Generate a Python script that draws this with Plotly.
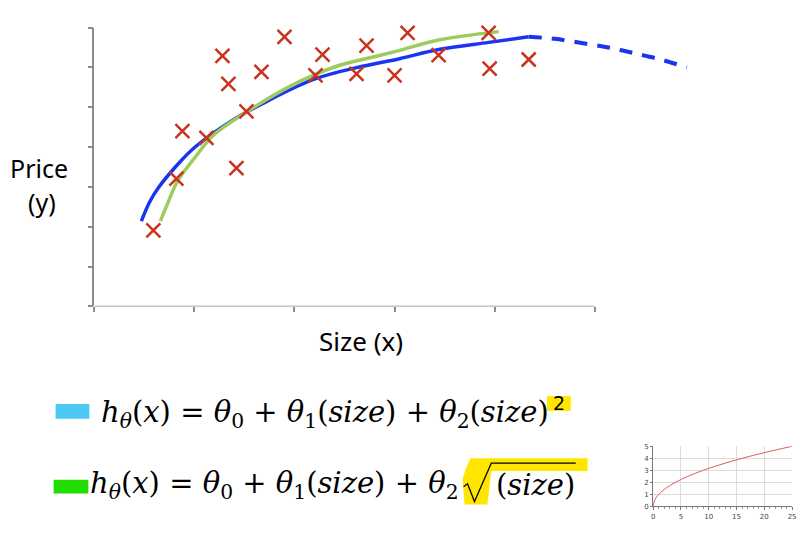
import plotly.graph_objects as go

W, H = 812, 537

# ---- data ----
cross_x = [0.59, 0.82, 0.88, 1.12, 1.28, 1.34, 1.42, 1.52, 1.67, 1.90,
           2.21, 2.28, 2.62, 2.72, 3.00, 3.13, 3.44, 3.94, 3.95, 4.34]
cross_y = [1.91, 3.21, 4.40, 4.23, 6.29, 5.59, 3.47, 4.90, 5.89, 6.77,
           5.80, 6.32, 5.84, 6.55, 5.80, 6.87, 6.31, 6.87, 5.97, 6.20]

blue_x = [0.47, 0.55, 0.64, 0.86, 1.01, 1.39, 1.67, 2.19, 2.68, 3.05, 3.44, 3.94, 4.34]
blue_y = [2.14, 2.61, 2.98, 3.64, 4.01, 4.69, 5.08, 5.70, 6.03, 6.22, 6.45, 6.63, 6.77]

blue_dash_x = [4.34, 4.60, 4.90, 5.16, 5.39, 5.66, 5.92]
blue_dash_y = [6.77, 6.72, 6.60, 6.49, 6.36, 6.20, 6.00]

green_x = [0.66, 0.73, 0.83, 1.00, 1.19, 1.52, 1.95, 2.42, 2.85, 3.05, 3.44, 4.04]
green_y = [2.14, 2.57, 3.14, 3.72, 4.30, 4.88, 5.52, 6.03, 6.30, 6.43, 6.69, 6.90]

main_xticks = [0, 1, 2, 3, 4, 5]
main_yticks = [0, 1, 2, 3, 4, 5, 6, 7]

inset_x = [0, 0.25, 1, 2.25, 4, 6.25, 9, 12.25, 16, 20.25, 25]
inset_y = [0, 0.5, 1, 1.5, 2, 2.5, 3, 3.5, 4, 4.5, 5]
inset_xticks = [0, 5, 10, 15, 20, 25]
inset_yticks = [0, 1, 2, 3, 4, 5]


def px(x):
    return x / W


def py(y):
    return 1 - y / H


fig = go.Figure()

fig.add_trace(go.Scatter(x=blue_x, y=blue_y, mode="lines",
                         line=dict(color="#1a35f2", width=3.5, shape="spline"),
                         showlegend=False, hoverinfo="skip"))
fig.add_trace(go.Scatter(x=blue_dash_x, y=blue_dash_y, mode="lines",
                         line=dict(color="#1a35f2", width=4, shape="spline", dash="13px,10px"),
                         showlegend=False, hoverinfo="skip"))
fig.add_trace(go.Scatter(x=green_x, y=green_y, mode="lines",
                         line=dict(color="#9dcc5e", width=3.5, shape="spline"),
                         showlegend=False, hoverinfo="skip"))
fig.add_trace(go.Scatter(x=cross_x, y=cross_y, mode="markers",
                         marker=dict(symbol="x-thin", size=14,
                                     line=dict(color="#c8341f", width=2.5)),
                         cliponaxis=False, showlegend=False))

fig.add_trace(go.Scatter(x=inset_x, y=inset_y, mode="lines", xaxis="x2", yaxis="y2",
                         line=dict(color="#e05a5a", width=1, shape="spline"),
                         showlegend=False))

shapes = []
# main x axis line (only up to the last tick)
shapes.append(dict(type="line", xref="x", yref="y", x0=main_xticks[0], x1=main_xticks[-1],
                   y0=0, y1=0, line=dict(color="#8c8c8c", width=1.5), layer="above"))

# colored legend swatches
shapes.append(dict(type="rect", xref="paper", yref="paper",
                   x0=px(54), x1=px(88), y0=py(421), y1=py(406),
                   fillcolor="#4cc8f4", line=dict(width=0), layer="below"))
shapes.append(dict(type="rect", xref="paper", yref="paper",
                   x0=px(52), x1=px(87), y0=py(497), y1=py(483),
                   fillcolor="#22dd00", line=dict(width=0), layer="below"))

# yellow highlights
shapes.append(dict(type="rect", xref="paper", yref="paper",
                   x0=px(549), x1=px(573), y0=py(413), y1=py(398),
                   fillcolor="#ffe600", line=dict(width=0), layer="below"))


def path(points, close=True):
    s = "M " + " L ".join(f"{px(a):.5f},{py(b):.5f}" for a, b in points)
    return s + (" Z" if close else "")


shapes.append(dict(type="path", xref="paper", yref="paper",
                   path=path([(472, 461), (590, 461), (590, 474), (493, 474),
                              (489, 508), (466, 508), (464, 482), (468, 470)]),
                   fillcolor="#ffe600", line=dict(width=0), layer="below"))

# radical sign
rad = [(465, 490), (469, 487), (476, 505), (493, 466), (578, 466)]
shapes.append(dict(type="path", xref="paper", yref="paper", path=path(rad, close=False),
                   line=dict(color="black", width=1.3), layer="above"))

annotations = []
sans = "Noto Sans"
annotations.append(dict(text="Price", x=px(37), y=py(166), xref="paper", yref="paper",
                        showarrow=False, font=dict(family=sans, size=25, color="black"),
                        xanchor="center", yanchor="middle"))
annotations.append(dict(text="(y)", x=px(40), y=py(201), xref="paper", yref="paper",
                        showarrow=False, font=dict(family=sans, size=25, color="black"),
                        xanchor="center", yanchor="middle"))
annotations.append(dict(text="Size (x)", x=px(362), y=py(342), xref="paper", yref="paper",
                        showarrow=False, font=dict(family=sans, size=26, color="black"),
                        xanchor="center", yanchor="middle"))

serif = "DejaVu Serif"
t = "<i>θ</i>"
line1 = ("<i>h</i><sub>" + t + "</sub>(<i>x</i>) = " + t + "<sub>0</sub> + " + t +
         "<sub>1</sub>(<i>size</i>) + " + t + "<sub>2</sub>(<i>size</i>)")
annotations.append(dict(text=line1, x=px(98), y=py(416), xref="paper", yref="paper",
                        showarrow=False, font=dict(family=serif, size=29, color="black"),
                        xanchor="left", yanchor="middle"))
annotations.append(dict(text="2", x=px(561), y=py(405), xref="paper", yref="paper",
                        showarrow=False, font=dict(family="DejaVu Sans", size=19, color="black"),
                        xanchor="center", yanchor="middle"))
line2 = ("<i>h</i><sub>" + t + "</sub>(<i>x</i>) = " + t + "<sub>0</sub> + " + t +
         "<sub>1</sub>(<i>size</i>) + " + t + "<sub>2</sub>")
annotations.append(dict(text=line2, x=px(87), y=py(488), xref="paper", yref="paper",
                        showarrow=False, font=dict(family=serif, size=29, color="black"),
                        xanchor="left", yanchor="middle"))
annotations.append(dict(text="(<i>size</i>)", x=px(496), y=py(488), xref="paper", yref="paper",
                        showarrow=False, font=dict(family=serif, size=29, color="black"),
                        xanchor="left", yanchor="middle"))

fig.update_layout(
    width=W, height=H,
    margin=dict(l=0, r=0, t=0, b=0),
    paper_bgcolor="white", plot_bgcolor="white",
    shapes=shapes, annotations=annotations,
    xaxis=dict(domain=[px(93), px(700)], range=[0, 6.02], showgrid=False, zeroline=False,
               showline=False, tickvals=main_xticks, showticklabels=False,
               ticks="outside", ticklen=5, tickcolor="#8c8c8c", tickwidth=1.5,
               fixedrange=True),
    yaxis=dict(domain=[py(307), py(24)], range=[0, 7], showgrid=False, zeroline=False,
               showline=True, linecolor="#8c8c8c", linewidth=1.5,
               tickvals=main_yticks, showticklabels=False,
               ticks="outside", ticklen=5, tickcolor="#8c8c8c", tickwidth=1.5,
               fixedrange=True),
    xaxis2=dict(domain=[px(656), px(796)], anchor="y2", range=[0, 25],
                tickvals=inset_xticks, showgrid=True, gridcolor="#dcdcdc", zeroline=False,
                showline=True, linecolor="#777", linewidth=1,
                ticks="outside", ticklen=3, tickcolor="#777",
                minor=dict(dtick=1, ticks="outside", ticklen=2, tickcolor="#999", showgrid=False),
                tickfont=dict(family="DejaVu Sans", size=7, color="#444")),
    yaxis2=dict(domain=[py(510), py(449)], anchor="x2", range=[0, 5],
                tickvals=inset_yticks, showgrid=True, gridcolor="#dcdcdc", zeroline=False,
                showline=True, linecolor="#777", linewidth=1,
                ticks="outside", ticklen=2, tickcolor="#777",
                tickfont=dict(family="DejaVu Sans", size=7, color="#444")),
)

fig.write_html("out.html", config={"displayModeBar": False},
               post_script="document.body.style.margin='0px';")
